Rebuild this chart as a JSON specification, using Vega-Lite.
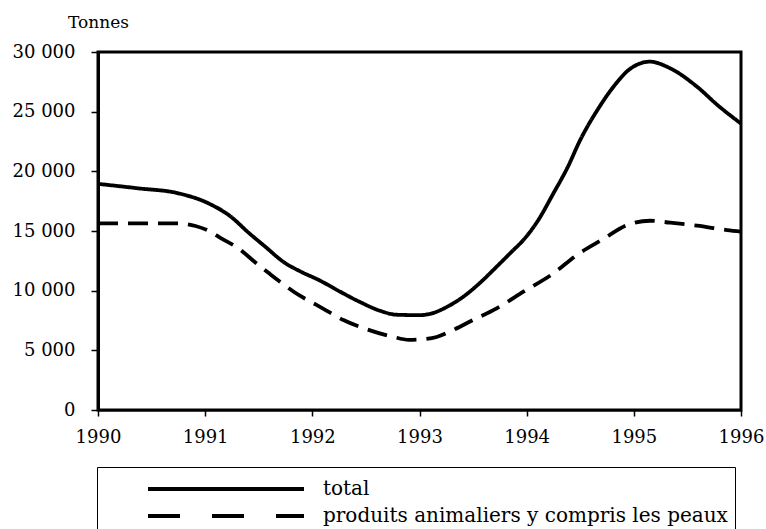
{
  "$schema": "https://vega.github.io/schema/vega-lite/v6.json",
  "width": 643,
  "height": 358,
  "autosize": {"type": "none"},
  "padding": {"left": 98, "top": 52, "right": 25, "bottom": 119},
  "background": "white",
  "config": {
    "view": {"stroke": "black", "strokeWidth": 3},
    "font": "DejaVu Serif"
  },
  "data": {
    "values": [
      {"year": 1990.00, "value": 18950, "serie": "total"},
      {"year": 1990.37, "value": 18580, "serie": "total"},
      {"year": 1990.75, "value": 18160, "serie": "total"},
      {"year": 1991.03, "value": 17320, "serie": "total"},
      {"year": 1991.24, "value": 16200, "serie": "total"},
      {"year": 1991.40, "value": 14900, "serie": "total"},
      {"year": 1991.56, "value": 13690, "serie": "total"},
      {"year": 1991.74, "value": 12350, "serie": "total"},
      {"year": 1991.88, "value": 11650, "serie": "total"},
      {"year": 1992.07, "value": 10850, "serie": "total"},
      {"year": 1992.26, "value": 9910, "serie": "total"},
      {"year": 1992.44, "value": 9070, "serie": "total"},
      {"year": 1992.63, "value": 8320, "serie": "total"},
      {"year": 1992.79, "value": 7980, "serie": "total"},
      {"year": 1993.00, "value": 7950, "serie": "total"},
      {"year": 1993.10, "value": 8060, "serie": "total"},
      {"year": 1993.26, "value": 8660, "serie": "total"},
      {"year": 1993.41, "value": 9500, "serie": "total"},
      {"year": 1993.56, "value": 10620, "serie": "total"},
      {"year": 1993.72, "value": 12010, "serie": "total"},
      {"year": 1993.87, "value": 13350, "serie": "total"},
      {"year": 1993.97, "value": 14250, "serie": "total"},
      {"year": 1994.10, "value": 15800, "serie": "total"},
      {"year": 1994.25, "value": 18160, "serie": "total"},
      {"year": 1994.38, "value": 20300, "serie": "total"},
      {"year": 1994.50, "value": 22630, "serie": "total"},
      {"year": 1994.68, "value": 25420, "serie": "total"},
      {"year": 1994.81, "value": 27090, "serie": "total"},
      {"year": 1994.96, "value": 28550, "serie": "total"},
      {"year": 1995.15, "value": 29190, "serie": "total"},
      {"year": 1995.34, "value": 28630, "serie": "total"},
      {"year": 1995.59, "value": 27090, "serie": "total"},
      {"year": 1995.78, "value": 25560, "serie": "total"},
      {"year": 1996.00, "value": 24000, "serie": "total"},
      {"year": 1990.00, "value": 15640, "serie": "produits animaliers y compris les peaux"},
      {"year": 1990.75, "value": 15640, "serie": "produits animaliers y compris les peaux"},
      {"year": 1990.91, "value": 15420, "serie": "produits animaliers y compris les peaux"},
      {"year": 1991.05, "value": 14940, "serie": "produits animaliers y compris les peaux"},
      {"year": 1991.15, "value": 14390, "serie": "produits animaliers y compris les peaux"},
      {"year": 1991.31, "value": 13550, "serie": "produits animaliers y compris les peaux"},
      {"year": 1991.46, "value": 12430, "serie": "produits animaliers y compris les peaux"},
      {"year": 1991.59, "value": 11500, "serie": "produits animaliers y compris les peaux"},
      {"year": 1991.72, "value": 10600, "serie": "produits animaliers y compris les peaux"},
      {"year": 1991.88, "value": 9600, "serie": "produits animaliers y compris les peaux"},
      {"year": 1992.00, "value": 9000, "serie": "produits animaliers y compris les peaux"},
      {"year": 1992.10, "value": 8500, "serie": "produits animaliers y compris les peaux"},
      {"year": 1992.29, "value": 7540, "serie": "produits animaliers y compris les peaux"},
      {"year": 1992.51, "value": 6760, "serie": "produits animaliers y compris les peaux"},
      {"year": 1992.75, "value": 6140, "serie": "produits animaliers y compris les peaux"},
      {"year": 1992.90, "value": 5880, "serie": "produits animaliers y compris les peaux"},
      {"year": 1993.02, "value": 5920, "serie": "produits animaliers y compris les peaux"},
      {"year": 1993.16, "value": 6120, "serie": "produits animaliers y compris les peaux"},
      {"year": 1993.28, "value": 6560, "serie": "produits animaliers y compris les peaux"},
      {"year": 1993.50, "value": 7540, "serie": "produits animaliers y compris les peaux"},
      {"year": 1993.72, "value": 8520, "serie": "produits animaliers y compris les peaux"},
      {"year": 1993.97, "value": 9910, "serie": "produits animaliers y compris les peaux"},
      {"year": 1994.25, "value": 11450, "serie": "produits animaliers y compris les peaux"},
      {"year": 1994.47, "value": 13000, "serie": "produits animaliers y compris les peaux"},
      {"year": 1994.71, "value": 14300, "serie": "produits animaliers y compris les peaux"},
      {"year": 1994.94, "value": 15500, "serie": "produits animaliers y compris les peaux"},
      {"year": 1995.15, "value": 15860, "serie": "produits animaliers y compris les peaux"},
      {"year": 1995.34, "value": 15700, "serie": "produits animaliers y compris les peaux"},
      {"year": 1995.59, "value": 15450, "serie": "produits animaliers y compris les peaux"},
      {"year": 1995.87, "value": 15080, "serie": "produits animaliers y compris les peaux"},
      {"year": 1996.00, "value": 14950, "serie": "produits animaliers y compris les peaux"}
    ]
  },
  "encoding": {
    "x": {
      "field": "year",
      "type": "quantitative",
      "scale": {"domain": [1990, 1996], "nice": false, "zero": false},
      "axis": {
        "title": null,
        "values": [1990, 1991, 1992, 1993, 1994, 1995, 1996],
        "format": "d",
        "grid": false,
        "domainColor": "black",
        "domainWidth": 2,
        "tickColor": "black",
        "tickWidth": 1.5,
        "tickSize": 6,
        "labelFont": "DejaVu Serif",
        "labelFontSize": 18,
        "labelColor": "black",
        "labelPadding": 12,
        "labelFlush": false,
        "labelOverlap": false
      }
    },
    "y": {
      "field": "value",
      "type": "quantitative",
      "scale": {"domain": [0, 30000], "nice": false},
      "axis": {
        "title": "Tonnes",
        "titleAngle": 0,
        "titleX": 0,
        "titleY": -30,
        "titleAlign": "center",
        "titleBaseline": "middle",
        "titleFont": "DejaVu Serif",
        "titleFontSize": 17,
        "titleFontWeight": "normal",
        "titleColor": "black",
        "values": [0, 5000, 10000, 15000, 20000, 25000, 30000],
        "labelExpr": "replace(format(datum.value, ','), ',', ' ')",
        "grid": false,
        "domainColor": "black",
        "domainWidth": 3,
        "tickColor": "black",
        "tickWidth": 1.5,
        "tickSize": 7,
        "labelFont": "DejaVu Serif",
        "labelFontSize": 18,
        "labelColor": "black",
        "labelPadding": 16
      }
    }
  },
  "layer": [
    {
      "mark": {"type": "line", "interpolate": "monotone", "color": "black", "strokeWidth": 3.8},
      "encoding": {
        "strokeDash": {
          "field": "serie",
          "type": "nominal",
          "scale": {
            "domain": ["total", "produits animaliers y compris les peaux"],
            "range": [[1, 0], [20, 10]]
          },
          "legend": null
        }
      }
    },
    {
      "mark": {"type": "line", "interpolate": "monotone", "color": "black", "strokeWidth": 3.5, "opacity": 0},
      "encoding": {
        "strokeDash": {
          "field": "serie",
          "type": "nominal",
          "scale": {
            "domain": ["total", "produits animaliers y compris les peaux"],
            "range": [[1, 0], [32, 32]]
          },
          "legend": {
            "title": null,
            "orient": "none",
            "legendX": -1,
            "legendY": 415,
            "direction": "vertical",
            "padding": 7,
            "rowPadding": 2,
            "strokeColor": "black",
            "symbolType": "M-6,0H6",
            "symbolSize": 676,
            "symbolStrokeWidth": 4,
            "symbolStrokeColor": "black",
            "symbolOpacity": 1,
            "symbolOffset": 107,
            "labelOffset": 82,
            "labelFont": "DejaVu Serif",
            "labelFontSize": 20,
            "labelColor": "black",
            "labelLimit": 1000
          }
        }
      }
    }
  ],
  "resolve": {"scale": {"strokeDash": "independent"}, "legend": {"strokeDash": "independent"}}
}
